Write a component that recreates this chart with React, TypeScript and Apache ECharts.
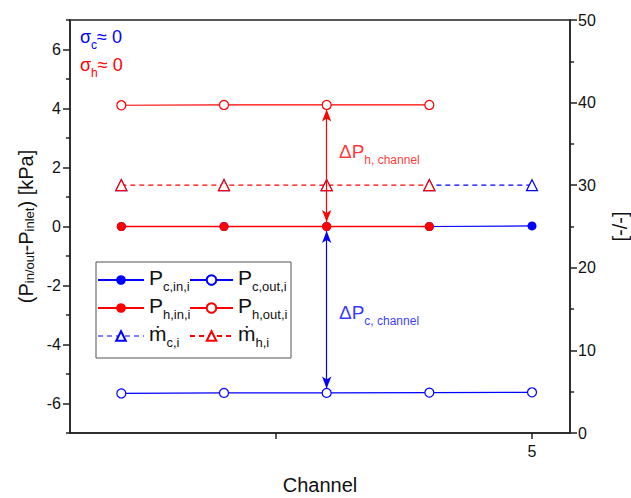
import React, { useEffect, useRef } from "react";
import * as echarts from "echarts";

const channels = [1, 2, 3, 4, 5];
const channelsH = [1, 2, 3, 4];
const pCin = [0.0, 0.0, 0.0, 0.0, 0.02];
const pCout = [-5.66, -5.64, -5.64, -5.63, -5.62];
const pHin = [0.0, 0.0, 0.0, 0.0];
const pHout = [4.11, 4.12, 4.12, 4.12];
const mC = [30, 30, 30, 30, 30];
const mH = [30, 30, 30, 30];
const xTickValues = [2.5, 5];
const xLabelValues = [5];
const yMajorValues = [-6, -4, -2, 0, 2, 4, 6];
const yMinorValues = [-7, -5, -3, -1, 1, 3, 5, 7];
const arrowChannel = 3;
const arrowGap = 0.15;

const FONT = "Liberation Sans, Arial, sans-serif";
const BLUE = "#0000ff";
const RED = "#ff0000";
const AXIS = "#222";
const W = 631;
const H = 498;

const pairs = (xs: number[], ys: number[]) => xs.map((x, i) => [x, ys[i]]);

const subRich = (color: string, big = 21, small = 13) => ({
  p: { fontSize: big, fontFamily: FONT, color, fill: color, padding: [0, 0, 5, 0], verticalAlign: "bottom" },
  s: { fontSize: small, fontFamily: FONT, color, fill: color, verticalAlign: "bottom" },
});

export default function App() {
  const ref = useRef<HTMLDivElement>(null);
  useEffect(() => {
    if (!ref.current) return;
    const chart = echarts.init(ref.current, null, { renderer: "svg" });
    const lineBase = (name: string, color: string, data: number[][], extra: any = {}) => ({
      id: name,
      name,
      type: "line",
      data,
      color,
      lineStyle: { color, width: 1.2 },
      itemStyle: { color },
      symbol: "circle",
      symbolSize: 9,
      showSymbol: true,
      emphasis: { disabled: true },
      ...extra,
    });
    const legendNames: Record<string, string> = {
      Pcin: "{p|P}{s|c,in,i}",
      Pcout: "{p|P}{s|c,out,i}",
      Phin: "{p|P}{s|h,in,i}",
      Phout: "{p|P}{s|h,out,i}",
      mc: "{p|ṁ}{s|c,i}",
      mh: "{p|ṁ}{s|h,i}",
    };
    const legendCommon = {
      orient: "vertical",
      padding: 0,
      itemHeight: 12,
      itemGap: 2,
      selectedMode: false,
      formatter: (n: string) => legendNames[n],
      textStyle: { rich: subRich("#111") },
    };
    const arrow = (color: string, from: number, to: number) => ({
      silent: true,
      symbol: ["arrow", "arrow"],
      symbolSize: [7, 12],
      label: { show: false },
      emphasis: { disabled: true },
      lineStyle: { color, width: 1.2, type: "solid" },
      data: [[{ coord: [arrowChannel, from] }, { coord: [arrowChannel, to] }]],
    });
    chart.setOption({
      animation: false,
      backgroundColor: "#fff",
      grid: {
        left: 70,
        right: 61,
        top: 20,
        bottom: 65,
        show: true,
        borderColor: AXIS,
        borderWidth: 1.5,
        outerBoundsMode: "none",
        containLabel: false,
      },
      xAxis: {
        type: "value",
        min: 0.5,
        max: 5.37,
        name: "Channel",
        nameLocation: "middle",
        nameGap: 42,
        nameTextStyle: { fontSize: 20, fontFamily: FONT, color: "#111" },
        axisLine: { onZero: false, lineStyle: { color: AXIS, width: 1.5 } },
        axisTick: { customValues: xTickValues, length: 6, lineStyle: { color: AXIS, width: 1.5 } },
        axisLabel: { customValues: xLabelValues, fontSize: 16, fontFamily: FONT, color: "#111", margin: 10 },
        splitLine: { show: false },
      },
      yAxis: [
        {
          type: "value",
          min: -7,
          max: 7,
          position: "left",
          name: "(P{s|in/out}-P{s|inlet}) [kPa]",
          nameLocation: "middle",
          nameGap: 34,
          nameRotate: 90,
          nameTextStyle: { fontSize: 20, fontFamily: FONT, color: "#111", rich: subRich("#111", 20, 13) },
          axisLine: { show: true, onZero: false, lineStyle: { color: AXIS, width: 1.5 } },
          axisTick: { customValues: yMajorValues, length: 7, lineStyle: { color: AXIS, width: 1.5 } },
          axisLabel: { customValues: yMajorValues, fontSize: 16, fontFamily: FONT, color: "#111", margin: 9 },
          splitLine: { show: false },
        },
        {
          type: "value",
          min: 0,
          max: 50,
          interval: 10,
          position: "right",
          name: "[-/-]",
          nameLocation: "middle",
          nameGap: 40,
          nameRotate: 90,
          nameTextStyle: { fontSize: 20, fontFamily: FONT, color: "#111" },
          axisLine: { show: true, onZero: false, lineStyle: { color: AXIS, width: 1.5 } },
          axisTick: { length: 7, lineStyle: { color: AXIS, width: 1.5 } },
          minorTick: { show: true, splitNumber: 2, length: 4, lineStyle: { color: AXIS, width: 1.5 } },
          axisLabel: { fontSize: 16, fontFamily: FONT, color: "#111", margin: 8 },
          splitLine: { show: false },
        },
        {
          type: "value",
          min: -7,
          max: 7,
          position: "left",
          axisLine: { show: false, onZero: false },
          axisTick: { customValues: yMinorValues, length: 4, lineStyle: { color: AXIS, width: 1.5 } },
          axisLabel: { show: false },
          splitLine: { show: false },
        },
      ],
      legend: [
        {
          ...legendCommon,
          left: 97,
          top: 267,
          itemWidth: 46,
          data: ["Pcin", "Phin", { name: "mc", lineStyle: { color: BLUE, width: 1.2, type: [5, 4] } }],
        },
        { ...legendCommon, left: 189, top: 267, itemWidth: 43, data: ["Pcout", "Phout", "mh"] },
      ],
      graphic: [
        {
          type: "rect",
          shape: { x: 96, y: 262, width: 195, height: 96 },
          style: { fill: "#fff", stroke: "#555", lineWidth: 1 },
          z: 0,
          silent: true,
        },
        {
          type: "text",
          x: 80,
          y: 28,
          z: 10,
          style: {
            text: "{p|σ}{s|c}{p|≈ 0}",
            rich: subRich(BLUE, 18, 12),
          },
        },
        {
          type: "text",
          x: 80,
          y: 56,
          z: 10,
          style: {
            text: "{p|σ}{s|h}{p|≈ 0}",
            rich: subRich(RED, 18, 12),
          },
        },
      ],
      series: [
        lineBase("Pcin", BLUE, pairs(channels, pCin)),
        lineBase("Pcout", BLUE, pairs(channels, pCout), {
          itemStyle: { color: "#fff", borderColor: BLUE, borderWidth: 1.2 },
          markLine: arrow(BLUE, pCin[2] - arrowGap, pCout[2] + arrowGap),
        }),
        lineBase("Phin", RED, pairs(channelsH, pHin), {
          lineStyle: { color: RED, width: 1.6 },
        }),
        lineBase("Phout", RED, pairs(channelsH, pHout), {
          itemStyle: { color: "#fff", borderColor: RED, borderWidth: 1.2 },
          markLine: arrow(RED, pHout[2] - arrowGap, pHin[2] + arrowGap),
        }),
        lineBase("mc", BLUE, pairs(channels, mC), {
          yAxisIndex: 1,
          symbol: "triangle",
          symbolSize: 11,
          lineStyle: { color: BLUE, width: 1.2, type: [5, 4] },
          itemStyle: { color: "#fff", borderColor: BLUE, borderWidth: 1.2 },
        }),
        lineBase("mh", RED, pairs(channelsH, mH), {
          yAxisIndex: 1,
          symbol: "triangle",
          symbolSize: 11,
          lineStyle: { color: RED, width: 1.2, type: [5, 4] },
          itemStyle: { color: "#fff", borderColor: RED, borderWidth: 1.2 },
        }),
        {
          name: "annH",
          type: "scatter",
          symbolSize: 0,
          silent: true,
          data: [[3.12, 2.45]],
          label: {
            show: true,
            position: "right",
            distance: 0,
            formatter: "{p|ΔP}{s|h, channel}",
            rich: subRich(RED, 19, 12),
          },
        },
        {
          name: "annC",
          type: "scatter",
          symbolSize: 0,
          silent: true,
          data: [[3.12, -3.0]],
          label: {
            show: true,
            position: "right",
            distance: 0,
            formatter: "{p|ΔP}{s|c, channel}",
            rich: subRich(BLUE, 19, 12),
          },
        },
      ],
    });
    // the blue m_c dashes that lie under the red m_h line are left transparent
    const splitPx = chart.convertToPixel({ xAxisIndex: 0 }, channelsH[channelsH.length - 1]) as number;
    const frac = Math.min(Math.max(splitPx / W, 0), 1);
    const mcGradient = new echarts.graphic.LinearGradient(
      0,
      0,
      W,
      0,
      [
        { offset: 0, color: "rgba(0,0,255,0)" },
        { offset: frac, color: "rgba(0,0,255,0)" },
        { offset: frac, color: BLUE },
        { offset: 1, color: BLUE },
      ],
      true
    );
    chart.setOption({ series: [{ id: "mc", lineStyle: { color: mcGradient } }] });
    return () => chart.dispose();
  }, []);
  return (
    <div
      ref={ref}
      style={{ position: "fixed", left: 0, top: 0, width: W, height: H, background: "#fff" }}
    />
  );
}
